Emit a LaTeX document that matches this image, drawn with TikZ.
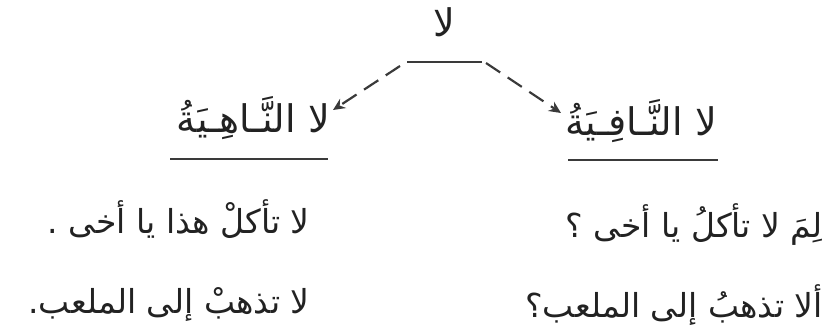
\documentclass[tikz,border=0pt]{standalone}
\usepackage{fontspec}
\TeXXeTstate=1
\newfontfamily\arabicfont[Script=Arabic]{DejaVu Sans}
\usetikzlibrary{arrows.meta}
\definecolor{ink}{HTML}{222222}
\definecolor{rule}{HTML}{3A3A3A}
\begin{document}
\begin{tikzpicture}[x=1pt,y=-1pt,
  ar/.style={inner sep=0pt,text=ink,font=\arabicfont\fontsize{38}{44}\selectfont},
  arsmall/.style={ar,font=\arabicfont\fontsize{33}{40}\selectfont},
  uline/.style={draw=rule,line width=2pt},
  dasharrow/.style={draw=rule,line width=2.2pt,dash pattern=on 17pt off 9pt,-{Stealth[length=12pt,width=11pt,inset=4pt]}}]
\useasboundingbox (0,0) rectangle (832,335);
\node[ar,anchor=base] (top) at (444,36) {\beginR لا\endR};
\coordinate (tl) at (407,62);
\coordinate (tr) at (482,62);
\draw[uline] (tl) -- (tr);
\node[ar,anchor=base east] (nahiya) at (330,132) {\beginR لا النَّـاهِـيَةُ\endR};
\node[ar,anchor=base east] (nafiya) at (717,135) {\beginR لا النَّـافِـيَةُ\endR};
\coordinate (nahL) at (170,159);
\coordinate (nahR) at (328,159);
\coordinate (nafL) at (568,160);
\coordinate (nafR) at (718,160);
\draw[uline] (nahL) -- (nahR);
\draw[uline] (nafL) -- (nafR);
\coordinate (al) at (400,66);
\coordinate (ar) at (486,63);
\coordinate (tipL) at (333,110);
\coordinate (tipR) at (561,113);
\draw[dasharrow] (al) -- (tipL);
\draw[dasharrow] (ar) -- (tipR);
\node[arsmall,anchor=base east] (l1) at (310,233) {\beginR لا تأكلْ هذا يا أخى .\endR};
\node[arsmall,anchor=base east] (l2) at (310,313) {\beginR لا تذهبْ إلى الملعب.\endR};
\node[arsmall,anchor=base east] (r1) at (823,237) {\beginR لِمَ لا تأكلُ يا أخى ؟\endR};
\node[arsmall,anchor=base east] (r2) at (823,317) {\beginR ألا تذهبُ إلى الملعب؟\endR};
\end{tikzpicture}
\end{document}
